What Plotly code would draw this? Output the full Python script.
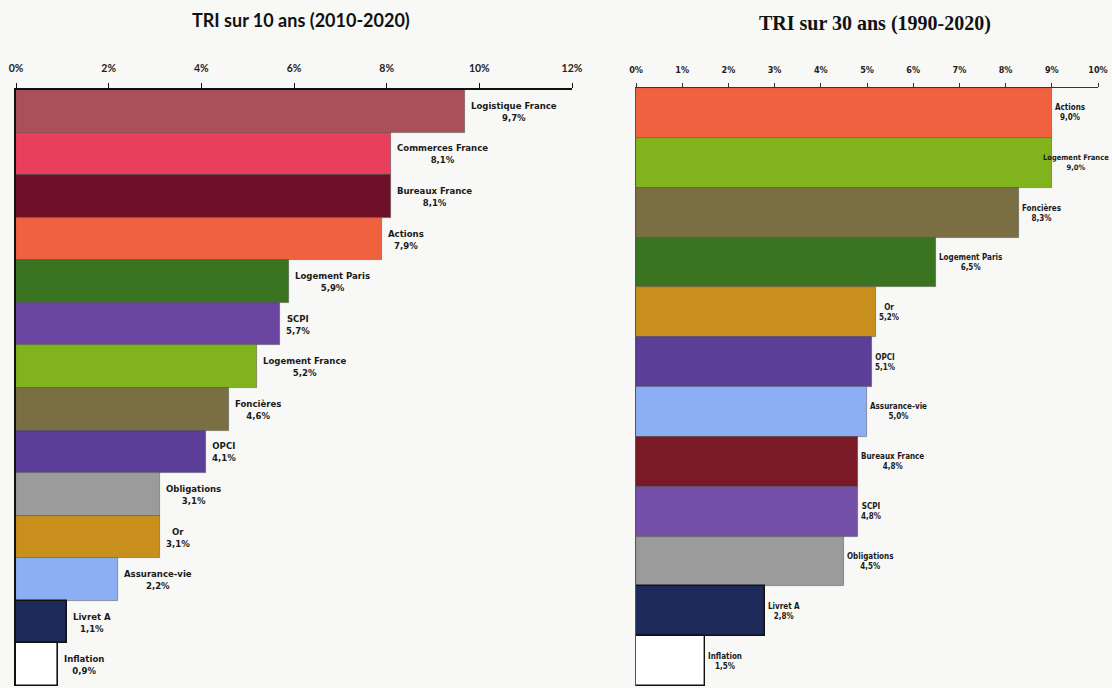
import plotly.graph_objects as go

# ---- Data: TRI sur 10 ans (2010-2020)
cats_10 = ["Logistique France", "Commerces France", "Bureaux France", "Actions",
           "Logement Paris", "SCPI", "Logement France", "Foncières", "OPCI",
           "Obligations", "Or", "Assurance-vie", "Livret A", "Inflation"]
vals_10 = [9.7, 8.1, 8.1, 7.9, 5.9, 5.7, 5.2, 4.6, 4.1, 3.1, 3.1, 2.2, 1.1, 0.9]
ticks_10 = [0, 2, 4, 6, 8, 10, 12]

# ---- Data: TRI sur 30 ans (1990-2020)
cats_30 = ["Actions", "Logement France", "Foncières", "Logement Paris", "Or",
           "OPCI", "Assurance-vie", "Bureaux France", "SCPI", "Obligations",
           "Livret A", "Inflation"]
vals_30 = [9.0, 9.0, 8.3, 6.5, 5.2, 5.1, 5.0, 4.8, 4.8, 4.5, 2.8, 1.5]
ticks_30 = [0, 1, 2, 3, 4, 5, 6, 7, 8, 9, 10]

colors = {
    "Logistique France": "#a9505b",
    "Commerces France": "#ea3f5c",
    "Bureaux France": "#6e1128",
    "Actions": "#f0613f",
    "Logement Paris": "#3a7420",
    "SCPI": "#6a46a0",
    "Logement France": "#80b31c",
    "Foncières": "#7a6f42",
    "OPCI": "#5a3e98",
    "Obligations": "#9b9b9b",
    "Or": "#c88f1c",
    "Assurance-vie": "#8caef4",
    "Livret A": "#1d2a5a",
    "Inflation": "#ffffff",
}
colors_30 = dict(colors)
colors_30["Bureaux France"] = "#7a1a26"
colors_30["SCPI"] = "#7450a8"

def line_col(c):
    return "#111111" if c in ("Inflation", "Livret A") else "rgba(60,60,60,0.55)"

def fmt(v):
    return f"{v:.1f}".replace(".", ",") + "%"

BG = "#f8f8f6"
LBL_FONT = "DejaVu Sans Condensed, Liberation Sans Narrow, Arial Narrow, sans-serif"

fig = go.Figure()
fig.add_trace(go.Bar(
    x=vals_10, y=cats_10, orientation="h", xaxis="x", yaxis="y",
    marker=dict(color=[colors[c] for c in cats_10],
                line=dict(color=[line_col(c) for c in cats_10],
                          width=[1.6 if c in ("Inflation", "Livret A") else 0.8 for c in cats_10])),
    width=1, showlegend=False, hoverinfo="x+y"))
fig.add_trace(go.Bar(
    x=vals_30, y=cats_30, orientation="h", xaxis="x2", yaxis="y2",
    marker=dict(color=[colors_30[c] for c in cats_30],
                line=dict(color=[line_col(c) for c in cats_30],
                          width=[1.4 if c in ("Inflation", "Livret A") else 0.8 for c in cats_30])),
    width=1, showlegend=False, hoverinfo="x+y"))

annotations = []
for c, v in zip(cats_10, vals_10):
    annotations.append(dict(
        x=v, y=c, xref="x", yref="y", xanchor="left", yanchor="middle",
        xshift=4, text=f"{c}<br>{fmt(v)}", showarrow=False, align="center",
        font=dict(family=LBL_FONT, size=9.5, color="#1a1a1a", weight="bold")))
for i, (c, v) in enumerate(zip(cats_30, vals_30)):
    edge = (i == 1)  # label hugging the right page edge
    if edge:
        annotations.append(dict(
            x=ticks_30[-1], y=c, xref="x2", yref="y2", xanchor="right", yanchor="middle",
            xshift=13, text=f"{c}<br>{fmt(v)}", showarrow=False, align="center",
            font=dict(family=LBL_FONT, size=7.5, color="#1a1a1a", weight="bold")))
    else:
        annotations.append(dict(
            x=v, y=c, xref="x2", yref="y2", xanchor="left", yanchor="middle",
            xshift=1, text=f"{c}<br>{fmt(v)}", showarrow=False, align="center",
            font=dict(family=LBL_FONT, size=8, color="#1a1a1a", weight="bold")))

annotations.append(dict(
    x=301 / 1112, y=1 - 20 / 688, xref="paper", yref="paper",
    xanchor="center", yanchor="middle", showarrow=False,
    text="TRI sur 10 ans (2010-2020)",
    font=dict(family="Lato, Open Sans, sans-serif", size=18, color="#111111", weight="bold")))
annotations.append(dict(
    x=875 / 1112, y=1 - 24 / 688, xref="paper", yref="paper",
    xanchor="center", yanchor="middle", showarrow=False,
    text="TRI sur 30 ans (1990-2020)",
    font=dict(family="Liberation Serif, Times New Roman, serif", size=20, color="#111111", weight="bold")))

fig.update_layout(
    width=1112, height=688,
    margin=dict(l=0, r=0, t=0, b=0),
    paper_bgcolor=BG, plot_bgcolor=BG,
    bargap=0,
    annotations=annotations,
    xaxis=dict(domain=[16 / 1112, 572 / 1112], range=[0, 12], side="top",
               tickvals=ticks_10, ticktext=[f"{t}%" for t in ticks_10],
               showline=True, linecolor="#111111", linewidth=1.5,
               ticks="outside", ticklen=5, tickcolor="#111111", tickwidth=1.2,
               ticklabelstandoff=7, automargin=False,
               showgrid=False, zeroline=False, anchor="y",
               tickfont=dict(family="Lato, sans-serif", size=10.5, color="#222222", weight="bold")),
    yaxis=dict(domain=[2 / 688, 1 - 90 / 688], categoryorder="array",
               categoryarray=cats_10, autorange="reversed",
               showline=True, linecolor="#111111", linewidth=1.5,
               showticklabels=False, ticks="", showgrid=False, zeroline=False,
               anchor="x", automargin=False),
    xaxis2=dict(domain=[636 / 1112, 1098 / 1112], range=[0, 10], side="top",
                tickvals=ticks_30, ticktext=[f"{t}%" for t in ticks_30],
                showline=True, linecolor="#333333", linewidth=1,
                ticks="outside", ticklen=4, tickcolor="#333333", tickwidth=1,
                ticklabelstandoff=6, automargin=False,
                showgrid=False, zeroline=False, anchor="y2",
                tickfont=dict(family=LBL_FONT, size=9, color="#222222", weight="bold")),
    yaxis2=dict(domain=[2 / 688, 1 - 88 / 688], categoryorder="array",
                categoryarray=cats_30, autorange="reversed",
                showline=True, linecolor="#555555", linewidth=1,
                showticklabels=False, ticks="", showgrid=False, zeroline=False,
                anchor="x2", automargin=False),
)

fig.write_html("out.html")
